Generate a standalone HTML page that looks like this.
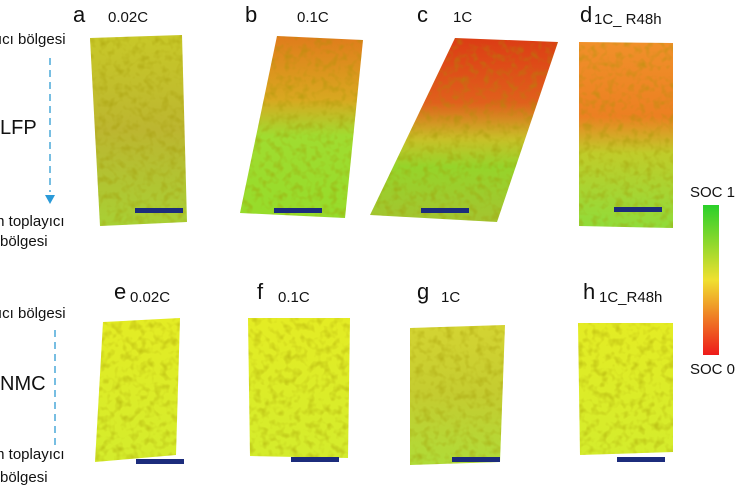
<!DOCTYPE html>
<html><head><style>body{margin:0;background:#fff}svg{display:block}text{font-family:"Liberation Sans",sans-serif;fill:#111}</style></head><body>
<svg width="741" height="486" viewBox="0 0 741 486" xmlns="http://www.w3.org/2000/svg">
<defs>
<filter id="n" x="0" y="0" width="100%" height="100%"><feTurbulence type="fractalNoise" baseFrequency="0.13" numOctaves="2" seed="3"/><feColorMatrix values="0 0 0 0 0.35  0 0 0 0 0.3  0 0 0 0 0  0 0 0 -1.0 0.55"/><feComposite in2="SourceGraphic" operator="in"/></filter>
<linearGradient id="ga" x1="0" y1="0" x2="0" y2="1"><stop offset="0" stop-color="#c8c828"/><stop offset=".5" stop-color="#bcb630"/><stop offset="1" stop-color="#a8d034"/></linearGradient>
<linearGradient id="gb" x1="0" y1="0" x2="0" y2="1"><stop offset="0" stop-color="#e07c1c"/><stop offset=".35" stop-color="#d8a820"/><stop offset=".55" stop-color="#a0dc30"/><stop offset="1" stop-color="#96dc2a"/></linearGradient>
<linearGradient id="gc" x1="0" y1="0" x2="0" y2="1"><stop offset="0" stop-color="#dc3c14"/><stop offset=".35" stop-color="#e0601c"/><stop offset=".55" stop-color="#c8c028"/><stop offset=".7" stop-color="#96d42a"/><stop offset="1" stop-color="#a4c430"/></linearGradient>
<linearGradient id="gd" x1="0" y1="0" x2="0" y2="1"><stop offset="0" stop-color="#f0902a"/><stop offset=".4" stop-color="#ec8022"/><stop offset=".6" stop-color="#c0cc2a"/><stop offset="1" stop-color="#90dc3a"/></linearGradient>
<linearGradient id="gn" x1="0" y1="0" x2="0" y2="1"><stop offset="0" stop-color="#e4ec24"/><stop offset="1" stop-color="#d4ec2c"/></linearGradient>
<linearGradient id="gg" x1="0" y1="0" x2="0" y2="1"><stop offset="0" stop-color="#d4d432"/><stop offset=".5" stop-color="#c4cc30"/><stop offset="1" stop-color="#b0dc38"/></linearGradient>
<linearGradient id="cb" x1="0" y1="0" x2="0" y2="1"><stop offset="0" stop-color="#2ad02a"/><stop offset=".5" stop-color="#f0e030"/><stop offset="1" stop-color="#ee1a1a"/></linearGradient>
</defs>
<g><polygon points="90,38 182,35 187,222 100,226" fill="url(#ga)"/><polygon points="90,38 182,35 187,222 100,226" fill="#000" filter="url(#n)"/></g>
<g><polygon points="277,36 363,40 345,218 240,213" fill="url(#gb)"/><polygon points="277,36 363,40 345,218 240,213" fill="#000" filter="url(#n)"/></g>
<g><polygon points="455,38 558,42 497,222 370,215" fill="url(#gc)"/><polygon points="455,38 558,42 497,222 370,215" fill="#000" filter="url(#n)"/></g>
<g><polygon points="579,42 673,43 673,228 579,226" fill="url(#gd)"/><polygon points="579,42 673,43 673,228 579,226" fill="#000" filter="url(#n)"/></g>
<g><polygon points="103,322 180,318 176,455 95,462" fill="url(#gn)"/><polygon points="103,322 180,318 176,455 95,462" fill="#000" filter="url(#n)"/></g>
<g><polygon points="248,318 350,318 348,458 250,456" fill="url(#gn)"/><polygon points="248,318 350,318 348,458 250,456" fill="#000" filter="url(#n)"/></g>
<g><polygon points="410,328 505,325 500,462 410,465" fill="url(#gg)"/><polygon points="410,328 505,325 500,462 410,465" fill="#000" filter="url(#n)"/></g>
<g><polygon points="578,323 673,323 673,452 580,455" fill="url(#gn)"/><polygon points="578,323 673,323 673,452 580,455" fill="#000" filter="url(#n)"/></g>
<g fill="#1c2c7c"><rect x="135" y="208" width="48" height="5"/><rect x="274" y="208" width="48" height="5"/><rect x="421" y="208" width="48" height="5"/><rect x="614" y="207" width="48" height="5"/><rect x="136" y="459" width="48" height="5"/><rect x="291" y="457" width="48" height="5"/><rect x="452" y="457" width="48" height="5"/><rect x="617" y="457" width="48" height="5"/></g>
<rect x="703" y="205" width="16" height="150" fill="url(#cb)"/>
<text x="690" y="197" font-size="15">SOC 1</text><text x="690" y="374" font-size="15">SOC 0</text>
<g font-size="22"><text x="73" y="22">a</text><text x="245" y="22">b</text><text x="417" y="22">c</text><text x="580" y="22">d</text><text x="114" y="299">e</text><text x="257" y="299">f</text><text x="417" y="299">g</text><text x="583" y="299">h</text></g>
<g font-size="15"><text x="108" y="22">0.02C</text><text x="297" y="22">0.1C</text><text x="453" y="22">1C</text><text x="594" y="24">1C_ R48h</text><text x="130" y="302">0.02C</text><text x="278" y="302">0.1C</text><text x="441" y="302">1C</text><text x="599" y="302">1C_R48h</text></g>
<g font-size="15"><text x="-2" y="44">ıcı bölgesi</text><text x="-8" y="226">m toplayıcı</text><text x="0" y="246">bölgesi</text>
<text x="-2" y="318">ıcı bölgesi</text><text x="-8" y="459">m toplayıcı</text><text x="0" y="482">bölgesi</text></g>
<text x="0" y="134" font-size="20">LFP</text><text x="0" y="390" font-size="20">NMC</text>
<line x1="50" y1="58" x2="50" y2="192" stroke="#4aa8d8" stroke-width="1.5" stroke-dasharray="7,5"/>
<polygon points="45,195 55,195 50,204" fill="#2a9ad8"/>
<line x1="55" y1="330" x2="55" y2="445" stroke="#4aa8d8" stroke-width="1.5" stroke-dasharray="7,5"/>
</svg>
</body></html>
